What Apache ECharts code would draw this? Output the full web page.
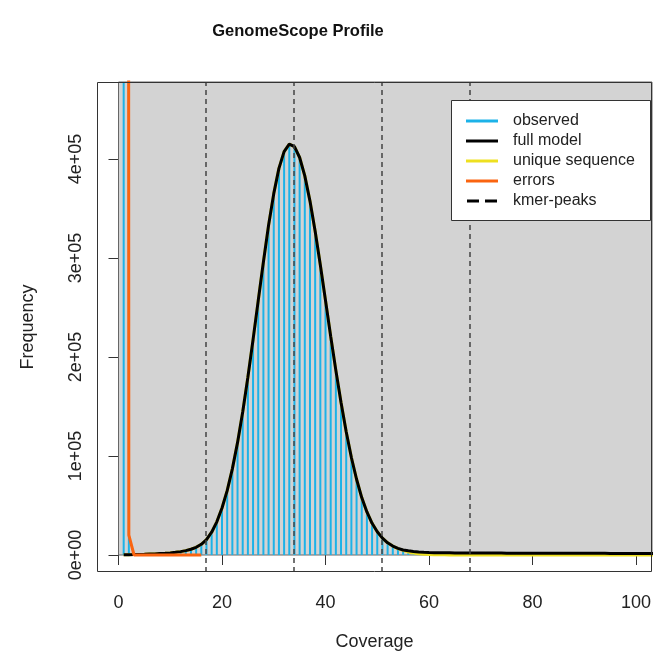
<!DOCTYPE html>
<html>
<head>
<meta charset="utf-8">
<script src="https://cdn.jsdelivr.net/npm/echarts@6/dist/echarts.min.js"></script>
<style>
html,body{margin:0;padding:0;background:#fff;}
#chart{width:653px;height:655px;}
</style>
</head>
<body>
<div id="chart"></div>
<script>
// k-mer coverage (x) and frequencies
var coverage = [1,2,3,4,5,6,7,8,9,10,11,12,13,14,15,16,17,18,19,20,
  21,22,23,24,25,26,27,28,29,30,31,32,33,34,35,36,37,38,39,40,
  41,42,43,44,45,46,47,48,49,50,51,52,53,54,55,56,57,58,59,60,
  61,62,63,64,65,66,67,68,69,70,71,72,73,74,75,76,77,78,79,80,
  81,82,83,84,85,86,87,88,89,90,91,92,93,94,95,96,97,98,99,100,
  101,102,103,104];
var observed = [9000000,1400000,600,700,800,950,1150,1400,1750,2150,2650,3450,4350,5900,7700,10900,15300,23200,33200,47900,
  64600,87400,113000,145100,179000,218200,256400,296700,332500,365600,389800,408200,414300,413100,400800,383700,356900,327600,292400,257500,
  220600,187000,153500,124900,98100,76900,57600,43800,31700,23800,16800,12500,8800,6900,5000,4300,3500,3200,2700,2600,
  2500,2250,3000,2100,3000,2050,3100,2000,3000,1950,3000,1900,2950,1950,2950,1850,2900,1900,2900,1800,
  2900,1850,2850,1800,2850,1750,2800,1750,2800,1700,2800,1700,2750,1650,2750,1650,2700,1600,2700,1600,
  2700,1550,2650,1550];
var fullModel = [300,300,400,550,700,900,1100,1400,1700,2100,2700,3400,4400,5800,7800,10800,15500,23000,33500,47500,
  65000,87000,113500,144500,179500,217500,257000,296000,333000,365000,390500,407500,415000,412500,401500,383000,357500,327000,293000,257000,
  221000,186500,154000,124500,98500,76500,58000,43500,32000,23500,17000,12300,9000,6700,5100,4200,3600,3100,2800,2550,
  2400,2300,2200,2150,2100,2080,2050,2020,2000,1980,1960,1940,1920,1900,1880,1860,1840,1820,1800,1790,
  1780,1770,1760,1750,1740,1730,1720,1710,1700,1690,1680,1670,1660,1650,1640,1630,1620,1610,1600,1590,
  1580,1570,1560,1550];
var uniqueSeq = [300,300,400,550,700,900,1100,1400,1700,2100,2700,3400,4400,5800,7800,10800,15500,23000,33500,47500,
  65000,87000,113500,144500,179500,217500,257000,296000,333000,365000,390500,407500,415000,412500,401500,383000,357500,327000,293000,257000,
  221000,186500,154000,124500,98500,76500,58000,43500,32000,23500,17000,12300,9000,6500,4700,3000,1900,1200,750,480,
  300,200,130,80,50,30,20,15,10,5,5,5,0,0,0,0,0,0,0,0,
  0,0,0,0,0,0,0,0,0,0,0,0,0,0,0,0,0,0,0,0,
  0,0,0,0];
var errorCov = [1,2,3,4,5,6,7,8,9,10,11,12,13,14,15,16];
var errors = [12000000,20000,0,0,0,0,0,0,0,0,0,0,0,0,0,0];
var kmerPeaks = [16.95, 33.9, 50.85, 67.8];
var xTicks = [0,20,40,60,80,100];
var yTicks = [0,100000,200000,300000,400000];

var FONT = 'Liberation Sans, Arial, Helvetica, sans-serif';
var BLUE = '#1CB2E8', ORANGE = '#FA6410', YELLOW = '#EEE020';
var X_MIN = -4.155, X_MAX = 103.09, Y_MIN = -17170, Y_MAX = 477780;

function pairs(xs, ys) {
  return xs.map(function (x, i) { return [x, ys[i]]; });
}

var myChart = echarts.init(document.getElementById('chart'));
myChart.setOption({
  animation: false,
  grid: { left: 97, top: 82, width: 555, height: 490, outerBoundsMode: 'none' },
  xAxis: {
    type: 'value', min: X_MIN, max: X_MAX,
    axisLine: { show: false },
    splitLine: { show: false },
    axisTick: { customValues: xTicks, length: 10, lineStyle: { color: '#333' } },
    axisLabel: { customValues: xTicks, fontSize: 18, fontFamily: FONT, color: '#222', margin: 22 },
    name: 'Coverage', nameLocation: 'middle', nameGap: 61,
    nameTextStyle: { fontSize: 18, fontFamily: FONT, color: '#222' }
  },
  yAxis: {
    type: 'value', min: Y_MIN, max: Y_MAX,
    axisLine: { show: false },
    splitLine: { show: false },
    axisTick: { customValues: yTicks, length: 10, lineStyle: { color: '#333' } },
    axisLabel: {
      customValues: yTicks, rotate: 90, fontSize: 18, fontFamily: FONT, color: '#222', margin: 12,
      formatter: function (v) { return v === 0 ? '0e+00' : (v / 100000) + 'e+05'; }
    },
    name: 'Frequency', nameLocation: 'middle', nameGap: 60,
    nameTextStyle: { fontSize: 18, fontFamily: FONT, color: '#222' }
  },
  legend: {
    orient: 'vertical', left: 466, top: 111, itemWidth: 32, itemHeight: 3, itemGap: 0,
    padding: 0, z: 101, selectedMode: false,
    textStyle: { fontSize: 16, fontFamily: FONT, color: '#222', lineHeight: 20, padding: [0, 0, 0, 10] },
    data: [
      { name: 'observed', icon: 'rect', itemStyle: { color: BLUE } },
      { name: 'full model', icon: 'rect', itemStyle: { color: '#000' } },
      { name: 'unique sequence', icon: 'rect', itemStyle: { color: YELLOW } },
      { name: 'errors', icon: 'rect', itemStyle: { color: ORANGE } },
      { name: 'kmer-peaks', icon: 'path://M0,0H12V3H0Z M18,0H30V3H18Z', itemStyle: { color: '#000' } }
    ]
  },
  graphic: [
    { type: 'text', x: 298, y: 31, z: 100,
      style: { text: 'GenomeScope Profile', font: 'bold 16.5px ' + FONT, fill: '#111', align: 'center', verticalAlign: 'middle' } },
    { type: 'rect', z: 60, shape: { x: 97.5, y: 82.5, width: 554, height: 489 },
      style: { fill: null, stroke: '#333', lineWidth: 1 } },
    { type: 'rect', z: 100, shape: { x: 451.5, y: 100.5, width: 199, height: 120 },
      style: { fill: '#fff', stroke: '#333', lineWidth: 1 } }
  ],
  series: [
    {
      name: 'bg', type: 'line', data: [], z: 0, silent: true,
      markArea: {
        silent: true,
        itemStyle: { color: '#D3D3D3', borderColor: '#666', borderWidth: 1 },
        data: [[{ coord: [0, 0] }, { coord: [X_MAX, Y_MAX] }]]
      }
    },
    {
      name: 'observed', type: 'bar', barWidth: 2, z: 2, silent: true,
      itemStyle: { color: BLUE },
      data: pairs(coverage, observed)
    },
    {
      name: 'unique sequence', type: 'line', z: 3, showSymbol: false, silent: true,
      lineStyle: { color: YELLOW, width: 3 }, itemStyle: { color: YELLOW },
      data: pairs(coverage, uniqueSeq)
    },
    {
      name: 'full model', type: 'line', z: 4, showSymbol: false, silent: true,
      lineStyle: { color: '#000', width: 3 }, itemStyle: { color: '#000' },
      data: pairs(coverage, fullModel)
    },
    {
      name: 'errors', type: 'line', z: 5, showSymbol: false, silent: true,
      lineStyle: { color: ORANGE, width: 3 }, itemStyle: { color: ORANGE },
      data: pairs(errorCov, errors)
    },
    {
      name: 'kmer-peaks', type: 'line', z: 6, data: [], silent: true,
      itemStyle: { color: '#000' },
      markLine: {
        silent: true, symbol: 'none', label: { show: false },
        lineStyle: { color: '#444', width: 1.5, type: [5, 4] },
        data: kmerPeaks.map(function (p) { return { xAxis: p }; })
      }
    }
  ]
});
</script>
</body>
</html>
